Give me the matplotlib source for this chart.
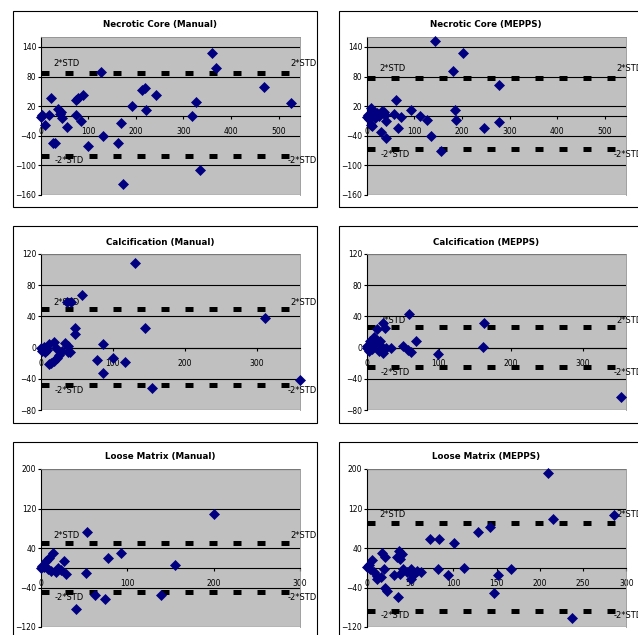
import matplotlib.pyplot as plt
from matplotlib.patches import Rectangle

plt.rcParams['font.family'] = ['DejaVu Sans']
plt.rcParams['lines.scale_dashes'] = False

# mean of the two measurements (x) against their difference (y)
nc_manual_x = [0, 2, 10, 18, 22, 26, 30, 37, 40, 45, 42, 55, 75, 79, 88, 75, 84, 100,
               126, 130, 163, 168, 172, 192, 213, 220, 222, 243, 318, 327, 335, 359, 369, 469, 527]
nc_manual_y = [-3, 2, -18, 3, 37, -55, -55, 14, 4, -5, 8, -23, 33, 36, 42, 3, -11, -61,
               90, -40, -55, -15, -137, 20, 52, 56, 12, 42, 1, 29, -109, 127, 98, 58, 26]

nc_mepps_x = [0, 2, 5, 8, 11, 14, 18, 22, 26, 32, 36, 38, 40, 8, 30, 41, 58, 62, 66, 73,
              93, 111, 127, 135, 144, 157, 181, 186, 188, 203, 247, 278, 278]
nc_mepps_y = [-2, 3, -7, 17, -21, 10, -5, 7, 0, 10, 8, 3, -10, -18, -32, -44, 5, 33, -24, -3,
              12, 1, -9, -41, 152, -70, 91, 12, -8, 128, -24, 62, -12]

ca_manual_x = [0, 2, 4, 6, 9, 11, 12, 14, 19, 19, 21, 22, 26, 30, 34, 38, 38, 40, 37, 42,
               47, 48, 58, 78, 86, 87, 101, 117, 131, 145, 155, 311, 360]
ca_manual_y = [-1, -4, 1, -6, -3, -21, 4, -20, 7, -17, 0, -13, -9, -4, 6, 2, -6, -6, 58, 58,
               25, 17, 68, -16, 5, -32, -13, -19, 109, 25, -52, 38, -42]

ca_mepps_x = [0, 1, 3, 5, 7, 10, 12, 14, 17, 19, 21, 22, 23, 25, 27, 34, 51, 57, 58, 62,
              69, 99, 161, 163, 352]
ca_mepps_y = [2, -1, -4, 9, -2, 13, 5, 24, -4, 8, 1, -7, 32, 25, -1, 0, 2, -3, 43, -6,
              8, -8, 1, 32, -63]

lm_manual_x = [0, 2, 4, 6, 8, 10, 12, 14, 18, 20, 23, 27, 29, 41, 53, 52, 63, 74, 78, 93,
               139, 155, 201]
lm_manual_y = [-1, 3, 1, 13, -2, 20, -6, 30, -8, -1, -4, 13, -13, -84, 72, -10, -55, -63, 19, 30,
               -55, 6, 108]

lm_mepps_x = [0, 3, 4, 6, 8, 12, 12, 16, 18, 20, 21, 21, 24, 31, 35, 36, 37, 39, 41, 39,
              42, 46, 51, 51, 54, 58, 63, 73, 83, 82, 94, 101, 113, 129, 143, 147, 152, 167,
              210, 215, 237, 286]
lm_mepps_y = [2, 6, -2, 16, -9, -16, -23, -19, 29, -2, 22, -42, -48, -14, 22, -59, 34, 18, 28, -12,
              -2, -9, -2, -23, -14, -7, -9, 58, 58, -3, -15, 50, 0, 73, 83, -52, -15, -3,
              191, 98, -101, 107]

titles = ["Necrotic Core (Manual)", "Necrotic Core (MEPPS)",
          "Calcification (Manual)", "Calcification (MEPPS)",
          "Loose Matrix (Manual)", "Loose Matrix (MEPPS)"]
xs = [nc_manual_x, nc_mepps_x, ca_manual_x, ca_mepps_x, lm_manual_x, lm_mepps_x]
ys = [nc_manual_y, nc_mepps_y, ca_manual_y, ca_mepps_y, lm_manual_y, lm_mepps_y]
std_upper = [87, 77, 50, 27, 50, 91]
std_lower = [-80, -67, -48, -25, -50, -87]
x_max = [545, 545, 360, 360, 300, 300]
x_step = [100, 100, 100, 100, 100, 50]
y_ticks = [[-160, -100, -40, 20, 80, 140], [-160, -100, -40, 20, 80, 140],
           [-80, -40, 0, 40, 80, 120], [-80, -40, 0, 40, 80, 120],
           [-120, -40, 40, 120, 200], [-120, -40, 40, 120, 200]]
y_lim = [(-160, 160), (-160, 160), (-80, 120), (-80, 120), (-120, 200), (-120, 200)]

# layout in pixels, origin top-left
W, H = 638, 635
col_box = [(13, 317), (339, 643)]
row_box = [(11, 207), (226, 423), (442, 638)]
col_ax = [(40.7, 300), (366.7, 626.3)]
row_ax = [(37, 195), (254, 410), (469, 627)]
title_y = [25, 242, 457]
label_up = [9.5, 5.7, 8]

fig = plt.figure(figsize=(W / 100, H / 100), dpi=100)

for i in range(6):
    r, c = divmod(i, 2)
    bx0, bx1 = col_box[c]
    by0, by1 = row_box[r]
    fig.patches.append(Rectangle((bx0 / W, 1 - by1 / H), (bx1 - bx0) / W, (by1 - by0) / H,
                                 transform=fig.transFigure, fill=False, ec='black', lw=0.8))
    fig.text((bx0 + bx1) / 2 / W - 0.008, 1 - title_y[r] / H, titles[i], ha='center', va='center',
             fontsize=6.3, fontweight='bold')

    ax0, ax1 = col_ax[c]
    ay0, ay1 = row_ax[r]
    ax = fig.add_axes([ax0 / W, 1 - ay1 / H, (ax1 - ax0) / W, (ay1 - ay0) / H])
    ax.set_facecolor('#c0c0c0')
    ax.set_xlim(0, x_max[i])
    ax.set_ylim(*y_lim[i])
    ax.set_yticks(y_ticks[i])
    ax.set_xticks(range(0, x_max[i] + 1, x_step[i]))
    ax.yaxis.grid(True, color='black', lw=0.8)
    ax.set_axisbelow(True)

    ax.spines['bottom'].set_position(('data', 0))
    ax.spines['bottom'].set_linewidth(0.8)
    ax.spines['left'].set_linewidth(0.8)
    for s in ['top', 'right']:
        ax.spines[s].set_color('#909090')
        ax.spines[s].set_linewidth(0.6)
    ax.tick_params(axis='x', direction='out', length=2, width=0.8, pad=6, labelsize=5.5)
    ax.tick_params(axis='y', direction='out', length=2, width=0.8, pad=1.2, labelsize=5.5)

    for v in [std_upper[i], std_lower[i]]:
        ax.axhline(v, color='black', lw=3.6, dashes=(5.76, 11.52), zorder=2)
    kw = dict(xycoords=('axes fraction', 'data'), textcoords='offset pixels',
              fontsize=6, va='center', annotation_clip=False)
    ax.annotate('2*STD', xy=(0, std_upper[i]), xytext=(12.5, label_up[r]), ha='left', **kw)
    ax.annotate('2*STD', xy=(1, std_upper[i]), xytext=(16.7, label_up[r]), ha='right', **kw)
    ax.annotate('-2*STD', xy=(0, std_lower[i]), xytext=(14, -5), ha='left', **kw)
    ax.annotate('-2*STD', xy=(1, std_lower[i]), xytext=(16.7, -5), ha='right', **kw)

    ax.plot(xs[i], ys[i], ls='none', marker='D', ms=4.8, color='#000080', mec='#000080',
            mew=0.5, clip_on=False, zorder=4)

fig.savefig('out.png', dpi=100, facecolor='white')
